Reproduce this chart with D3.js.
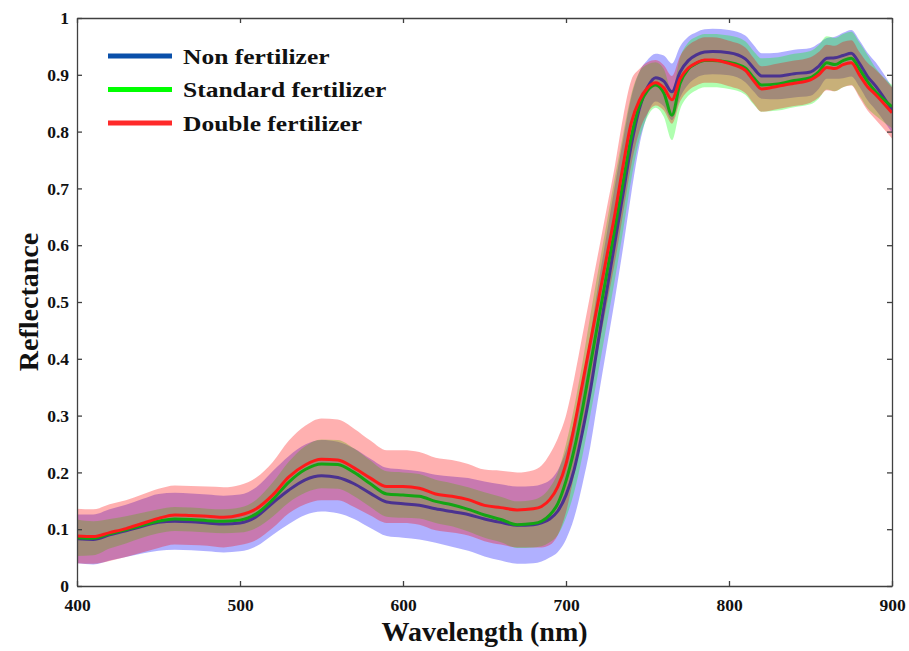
<!DOCTYPE html>
<html>
<head>
<meta charset="utf-8">
<script src="https://cdn.jsdelivr.net/npm/d3@7"></script>
<style>
  body { margin: 0; background: #fff; }
  svg { display: block; font-family: "Liberation Serif", "Times New Roman", serif; font-weight: bold; }
</style>
</head>
<body>
<svg width="909" height="651"></svg>
<script>
// wavelengths (nm)
var wl = [400,410,420,430,440,450,460,470,480,490,500,510,520,530,540,550,560,570,580,590,600,610,620,630,640,650,660,670,680,
  685,690,695,700,705,710,715,720,725,730,735,740,745,750,755,760,765,770,775,780,785,790,
  800,810,815,820,830,840,850,855,860,865,870,875,880,885,890,900];

// Non fertilizer: mean and std
var nonMean = [.083,.082,.090,.097,.105,.112,.114,.113,.111,.109,.111,.122,.146,.169,.187,.194,.191,.180,.163,.148,.145,.142,.136,.131,.126,.118,.112,.107,.108,
  .111,.118,.132,.160,.205,.270,.345,.435,.520,.605,.690,.775,.840,.878,.895,.889,.870,.905,.925,.935,.940,.941,
  .939,.928,.912,.898,.898,.902,.905,.915,.929,.930,.934,.938,.920,.897,.880,.838];
var nonSd = [.043,.044,.045,.046,.048,.050,.050,.050,.050,.050,.050,.052,.056,.060,.062,.063,.063,.062,.061,.060,.060,.060,.060,.062,.064,.066,.067,.068,.068,
  .068,.068,.072,.078,.085,.092,.098,.100,.100,.100,.095,.085,.065,.048,.042,.045,.050,.045,.042,.040,.040,.040,
  .040,.041,.041,.040,.041,.042,.042,.040,.036,.037,.040,.041,.041,.042,.042,.040];

// Standard fertilizer
var stdMean = [.085,.084,.092,.099,.107,.114,.118,.117,.115,.114,.116,.127,.152,.183,.205,.215,.214,.200,.180,.162,.160,.158,.149,.143,.135,.125,.117,.108,.110,
  .114,.125,.145,.185,.240,.310,.390,.470,.550,.630,.710,.790,.845,.872,.882,.868,.829,.885,.910,.920,.925,.925,
  .922,.912,.895,.882,.884,.890,.895,.905,.921,.918,.925,.929,.910,.888,.870,.844];
var stdSd = [.032,.030,.026,.024,.022,.021,.021,.021,.021,.021,.022,.025,.030,.036,.041,.043,.043,.042,.041,.040,.040,.039,.038,.038,.039,.040,.040,.041,.042,
  .044,.048,.055,.065,.075,.082,.088,.090,.090,.090,.085,.075,.060,.046,.040,.042,.044,.046,.047,.047,.047,.047,
  .047,.047,.047,.047,.047,.047,.047,.047,.047,.047,.047,.047,.047,.047,.042,.038];

// Double fertilizer
var dblMean = [.088,.087,.094,.101,.110,.119,.125,.124,.123,.121,.125,.136,.160,.192,.213,.223,.222,.208,.190,.175,.175,.172,.162,.158,.152,.142,.138,.134,.136,
  .140,.152,.175,.215,.280,.355,.430,.505,.580,.655,.740,.815,.855,.877,.886,.877,.856,.893,.912,.921,.926,.926,
  .920,.908,.890,.875,.880,.885,.891,.900,.913,.911,.918,.921,.900,.879,.865,.833];
var dblSd = [.048,.048,.050,.050,.051,.052,.052,.052,.052,.053,.053,.055,.058,.064,.069,.072,.071,.069,.066,.064,.064,.064,.064,.064,.063,.063,.065,.066,.068,
  .072,.080,.085,.085,.085,.085,.085,.085,.085,.085,.085,.075,.055,.045,.040,.040,.042,.040,.040,.040,.040,.040,
  .040,.040,.040,.040,.040,.040,.040,.040,.040,.040,.040,.040,.040,.042,.044,.045];

var xTicks = [400, 500, 600, 700, 800, 900];
var yTicks = [0, 0.1, 0.2, 0.3, 0.4, 0.5, 0.6, 0.7, 0.8, 0.9, 1];
var names = ["Non fertilizer", "Standard fertilizer", "Double fertilizer"];

var series = [
  {name: names[0], mean: nonMean, sd: nonSd, band: "rgba(0,0,255,0.31)", line: "#4b3290", key: "#0a50aa"},
  {name: names[1], mean: stdMean, sd: stdSd, band: "rgba(0,255,0,0.31)", line: "#14a514", key: "#00ff00"},
  {name: names[2], mean: dblMean, sd: dblSd, band: "rgba(255,0,0,0.31)", line: "#ff1a1a", key: "#ff2a2a"}
];

var svg = d3.select("svg"),
  margin = {top: 18, right: 17, bottom: 65, left: 77},
  width = +svg.attr("width"),
  height = +svg.attr("height");

var x = d3.scaleLinear().domain([400, 900]).range([margin.left, width - margin.right]);
var y = d3.scaleLinear().domain([0, 1]).range([height - margin.bottom, margin.top]);

svg.append("clipPath").attr("id", "plot")
  .append("rect")
  .attr("x", margin.left).attr("y", margin.top)
  .attr("width", x(900) - x(400)).attr("height", y(0) - y(1));

var plot = svg.append("g").attr("clip-path", "url(#plot)");

var area = d3.area()
  .curve(d3.curveMonotoneX)
  .x(function (d) { return x(d.wl); })
  .y0(function (d) { return y(d.m - d.s); })
  .y1(function (d) { return y(d.m + d.s); });

var line = d3.line()
  .curve(d3.curveMonotoneX)
  .x(function (d) { return x(d.wl); })
  .y(function (d) { return y(d.m); });

series.forEach(function (s) {
  s.pts = wl.map(function (w, i) { return {wl: w, m: s.mean[i], s: s.sd[i]}; });
});

plot.selectAll("path.band")
  .data(series)
  .enter().append("path")
  .attr("class", "band")
  .attr("d", function (d) { return area(d.pts); })
  .attr("fill", function (d) { return d.band; });

plot.selectAll("path.mean")
  .data(series)
  .enter().append("path")
  .attr("class", "mean")
  .attr("d", function (d) { return line(d.pts); })
  .attr("fill", "none")
  .attr("stroke", function (d) { return d.line; })
  .attr("stroke-width", 3)
  .attr("stroke-linejoin", "round");

// axes, ticks pointing inward on all four sides
var fmt = d3.format("~g");

svg.append("g")
  .attr("transform", "translate(0," + y(0) + ")")
  .call(d3.axisBottom(x).tickValues(xTicks).tickSize(-5).tickSizeOuter(0).tickPadding(13).tickFormat(fmt));

svg.append("g")
  .attr("transform", "translate(0," + y(1) + ")")
  .call(d3.axisTop(x).tickValues(xTicks).tickSize(-5).tickSizeOuter(0).tickFormat(""));

svg.append("g")
  .attr("transform", "translate(" + x(400) + ",0)")
  .call(d3.axisLeft(y).tickValues(yTicks).tickSize(-5).tickSizeOuter(0).tickPadding(8).tickFormat(fmt));

svg.append("g")
  .attr("transform", "translate(" + x(900) + ",0)")
  .call(d3.axisRight(y).tickValues(yTicks).tickSize(-5).tickSizeOuter(0).tickFormat(""));

svg.selectAll(".domain, .tick line")
  .attr("stroke", "#404040")
  .attr("stroke-width", 1.3);

svg.selectAll(".tick text")
  .attr("fill", "#111")
  .style("font-family", "'Liberation Serif', 'Times New Roman', serif")
  .style("font-weight", "bold")
  .style("font-size", "17.5px");

svg.append("text")
  .attr("x", (x(400) + x(900)) / 2)
  .attr("y", 641)
  .attr("text-anchor", "middle")
  .attr("fill", "#111")
  .style("font-size", "28px")
  .text("Wavelength (nm)");

svg.append("text")
  .attr("transform", "translate(38," + ((y(0) + y(1)) / 2) + ") rotate(-90)")
  .attr("text-anchor", "middle")
  .attr("fill", "#111")
  .style("font-size", "28px")
  .text("Reflectance");

// legend
var legend = svg.selectAll("g.key")
  .data(series)
  .enter().append("g")
  .attr("class", "key")
  .attr("transform", function (d, i) { return "translate(108," + (56 + i * 33.5) + ")"; });

legend.append("line")
  .attr("x1", 0).attr("x2", 64)
  .attr("stroke", function (d) { return d.key; })
  .attr("stroke-width", 5);

legend.append("text")
  .attr("transform", "translate(75,0) scale(1.16,1)")
  .attr("dy", "0.35em")
  .attr("fill", "#111")
  .style("font-size", "22px")
  .text(function (d) { return d.name; });
</script>
</body>
</html>
